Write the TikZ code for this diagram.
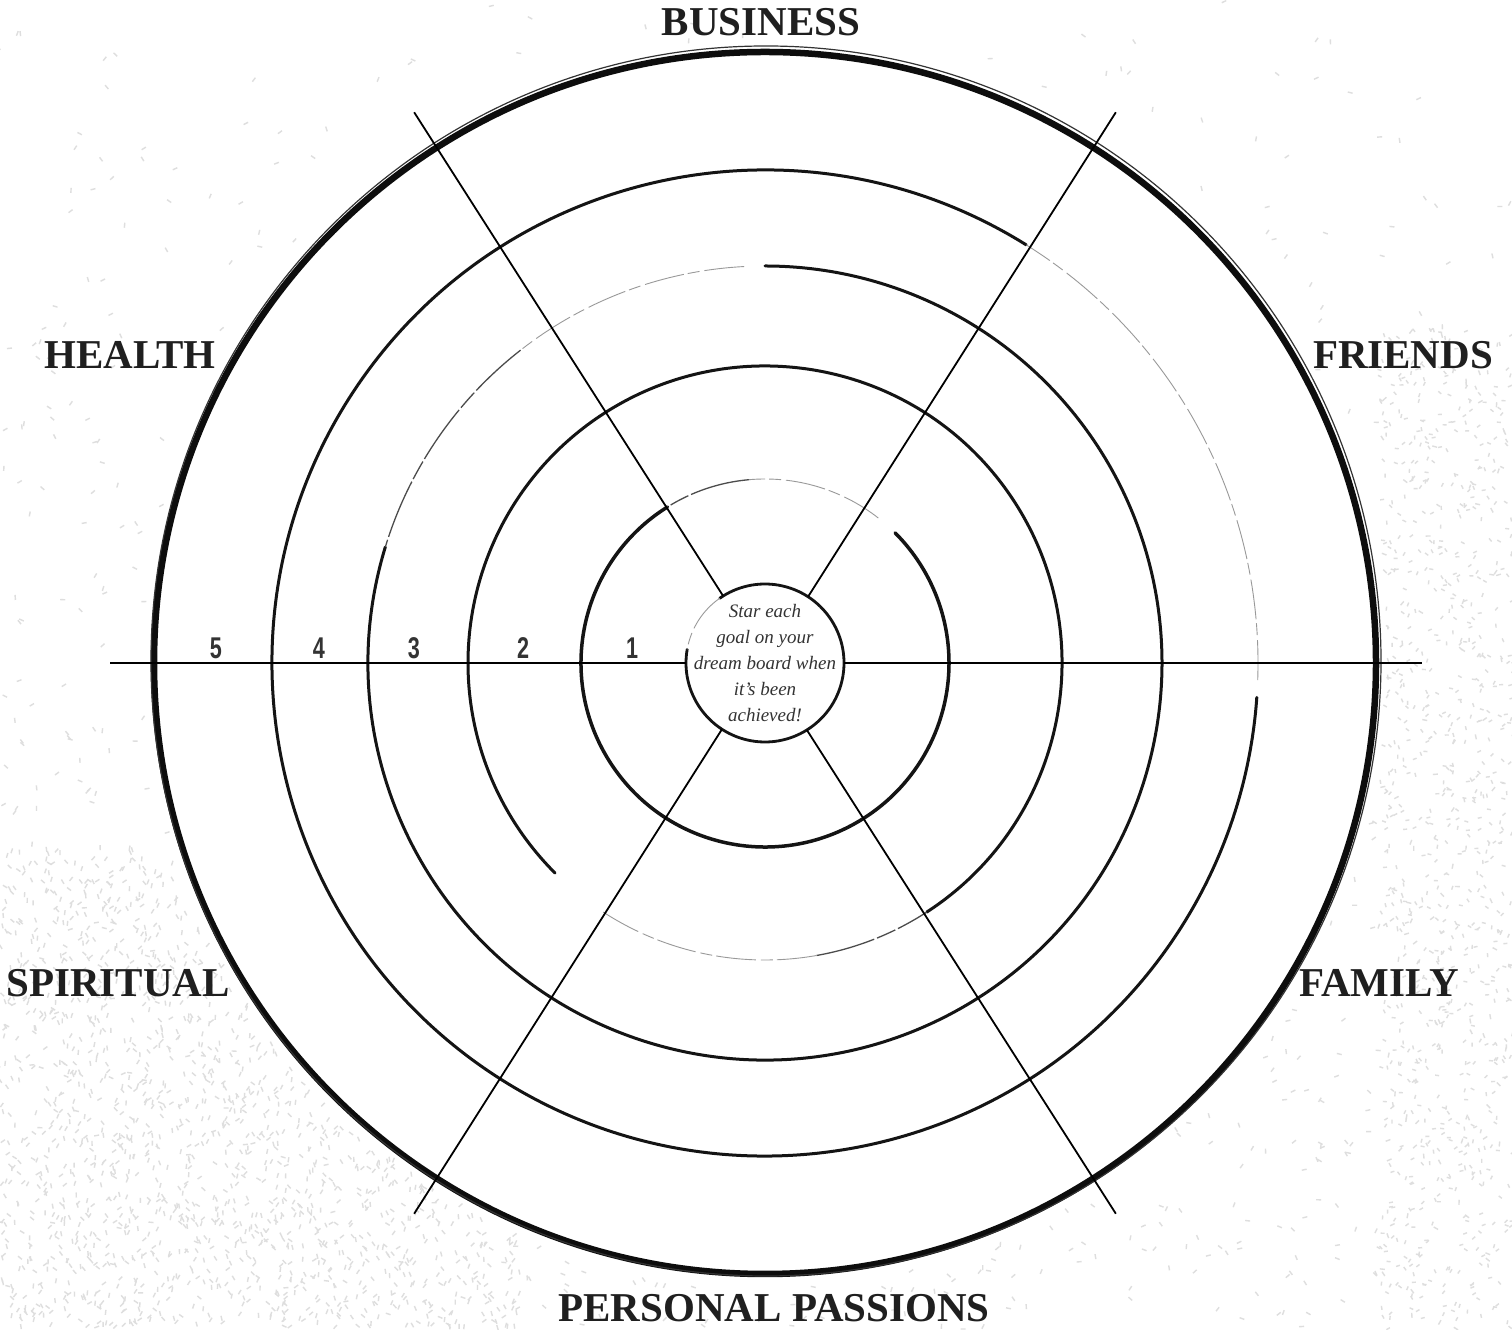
\documentclass[tikz,border=0pt]{standalone}
\usepackage{fontspec}
\usetikzlibrary{calc}
\setmainfont{Liberation Serif}
\newfontfamily\numfont{Liberation Sans}
\begin{document}
\begin{tikzpicture}[x=1pt,y=1pt,
  ring/.style={line width=3pt, black!92, line cap=round},
  faint/.style={line width=0.9pt, black!40, dash pattern=on 40pt off 5pt on 12pt off 4pt},
  thinring/.style={line width=1.3pt, black!70, dash pattern=on 60pt off 3pt on 20pt off 3pt},
  spoke/.style={line width=1.8pt, black},
  speck/.style={gray!26, line width=1.4pt},
  cat/.style={font=\fontsize{41}{41}\selectfont\bfseries, text=black!88, inner sep=0pt},
  num/.style={font=\numfont\bfseries\fontsize{30}{30}\selectfont, text=black!80, inner sep=0pt},
  hubtext/.style={align=center, font=\itshape\fontsize{19}{26}\selectfont, text=black!80}
]
\useasboundingbox (0,0) rectangle (1512,1330);
\fill[white] (0,0) rectangle (1512,1330);
% background speckle texture
\pgfmathsetseed{7}
\foreach \i in {1,...,3000}{
  \pgfmathsetmacro{\px}{rnd*1512}
  \pgfmathsetmacro{\py}{rnd*1330}
  \pgfmathtruncatemacro{\ok}{((veclen(\px-765,\py-667)>622) && (rnd<(0.1+0.8*(1-\py/1330)))) ? 1 : 0}
  \ifnum\ok=1
    \pgfmathsetmacro{\ang}{rnd*180}
    \draw[speck] (\px,\py) -- ++(\ang:5);
  \fi
}
\foreach \i in {1,...,2200}{
  \pgfmathsetmacro{\px}{rnd*520}
  \pgfmathsetmacro{\py}{rnd*480}
  \pgfmathtruncatemacro{\ok}{((veclen(\px-765,\py-667)>622) && (\px+\py<620)) ? 1 : 0}
  \ifnum\ok=1
    \pgfmathsetmacro{\ang}{30+rnd*120}
    \draw[speck] (\px,\py) -- ++(\ang:5);
  \fi
}
\foreach \i in {1,...,900}{
  \pgfmathsetmacro{\px}{1380+rnd*132}
  \pgfmathsetmacro{\py}{rnd*1000}
  \pgfmathtruncatemacro{\ok}{(veclen(\px-765,\py-667)>622) ? 1 : 0}
  \ifnum\ok=1
    \pgfmathsetmacro{\ang}{rnd*180}
    \draw[speck] (\px,\py) -- ++(\ang:4);
  \fi
}
\coordinate (C) at (765,667);
\fill[white] (C) circle[radius=611];
% outer ring
\draw[line width=6.5pt, black!95] (C) circle[radius=611];
\draw[line width=1.2pt, black!80] ([shift={(1,2)}]C) circle[radius=615];
% ring r=493
\draw[ring] (C) ++(58:493) arc[start angle=58, end angle=356, radius=493];
\draw[faint] (C) ++(-2:493) arc[start angle=-2, end angle=58, radius=493];
% ring r=397
\draw[ring] (C) ++(163:397) arc[start angle=163, end angle=450, radius=397];
\draw[thinring] (C) ++(128:397) arc[start angle=128, end angle=163, radius=397];
\draw[faint] (C) ++(93:397) arc[start angle=93, end angle=128, radius=397];
% ring r=297
\draw[ring] (C) ++(-57:297) arc[start angle=-57, end angle=225, radius=297];
\draw[thinring] (C) ++(280:297) arc[start angle=280, end angle=303, radius=297];
\draw[faint] (C) ++(237:297) arc[start angle=237, end angle=280, radius=297];
% ring r=184
\draw[ring, line width=3.5pt] (C) ++(122:184) arc[start angle=122, end angle=405, radius=184];
\draw[thinring] (C) ++(95:184) arc[start angle=95, end angle=122, radius=184];
\draw[faint] (C) ++(52:184) arc[start angle=52, end angle=95, radius=184];
% hub
\node[circle, minimum size=158pt, inner sep=0pt] (hub) at (C) {};
\draw[ring, line width=2.8pt] (C) ++(170:79) arc[start angle=170, end angle=485, radius=79];
\draw[faint] (C) ++(125:79) arc[start angle=125, end angle=170, radius=79];
\node[hubtext] (hubt) at (C) {Star each\\goal on your\\dream board when\\it's been\\achieved!};
% spokes
\coordinate (sW) at ($(C)+(180:655)$);
\coordinate (sE) at ($(C)+(0:657)$);
\coordinate (sNW) at ($(C)+(122.5:653)$);
\coordinate (sNE) at ($(C)+(57.5:653)$);
\coordinate (sSW) at ($(C)+(237.5:653)$);
\coordinate (sSE) at ($(C)+(302.5:653)$);
\draw[spoke] (hub.180) -- (sW);
\draw[spoke] (hub.0) -- (sE);
\draw[spoke] (hub.122.5) -- (sNW);
\draw[spoke] (hub.57.5) -- (sNE);
\draw[spoke] (hub.237.5) -- (sSW);
\draw[spoke] (hub.302.5) -- (sSE);
% scale numbers
\node[num] (n5) at (216,682) {\scalebox{0.72}[1]{5}};
\node[num] (n4) at (319,682) {\scalebox{0.72}[1]{4}};
\node[num] (n3) at (414,682) {\scalebox{0.72}[1]{3}};
\node[num] (n2) at (523,682) {\scalebox{0.72}[1]{2}};
\node[num] (n1) at (632,682) {\scalebox{0.72}[1]{1}};
% category labels
\node[cat] (business) at (761,1308) {BUSINESS};
\node[cat] (friends) at (1403,975) {FRIENDS};
\node[cat] (health) at (130,975) {HEALTH};
\node[cat] (spiritual) at (118,347) {SPIRITUAL};
\node[cat] (family) at (1379,347) {FAMILY};
\node[cat] (passions) at (774,22) {PERSONAL PASSIONS};
\end{tikzpicture}
\end{document}
